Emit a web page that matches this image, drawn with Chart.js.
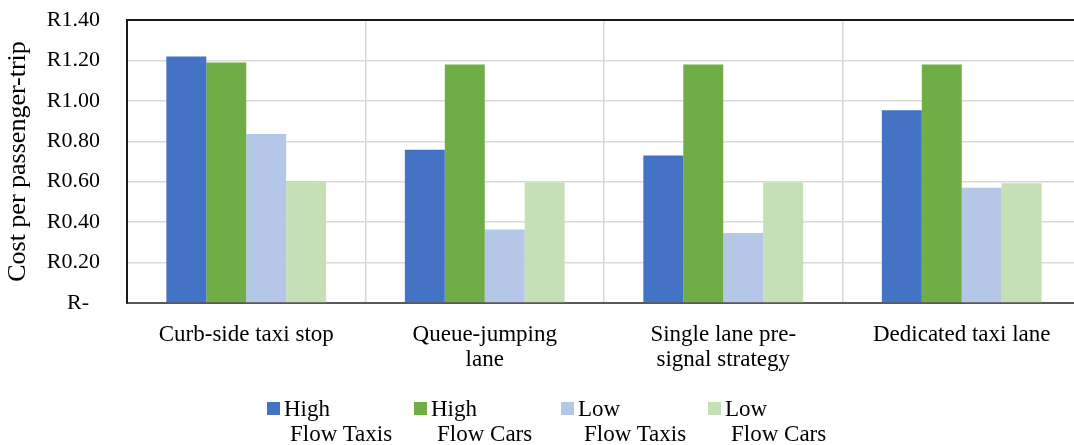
<!DOCTYPE html>
<html>
<head>
<meta charset="utf-8">
<script src="https://cdn.jsdelivr.net/npm/chart.js@4/dist/chart.umd.min.js"></script>
<style>
  html, body { margin: 0; padding: 0; background: #fff; }
  body { width: 1074px; height: 445px; overflow: hidden; position: relative; }
  #wrap { position: absolute; left: 0; top: 0; width: 1090px; height: 445px; }
  #legend { position: absolute; left: 267px; top: 396px; display: flex;
            font-family: 'Liberation Serif', 'Times New Roman', serif; font-size: 23px; color: #000; }
  .item { width: 147px; position: relative; }
  .box { position: absolute; left: 0; top: 6px; width: 13px; height: 13px; }
  .l1 { margin-left: 17px; line-height: 25px; white-space: nowrap; }
  .l2 { margin-left: 23px; line-height: 25px; white-space: nowrap; }
</style>
</head>
<body>
<div id="wrap"><canvas id="c" width="1090" height="445"></canvas></div>
<div id="legend"></div>
<script>
// Road treatment options along the x axis
const categories = [
  ['Curb-side taxi stop'],
  ['Queue-jumping', 'lane'],
  ['Single lane pre-', 'signal strategy'],
  ['Dedicated taxi lane']
];

// Cost per passenger-trip (Rand) for each flow scenario
const highFlowTaxis = [1.22, 0.758, 0.73, 0.953];
const highFlowCars  = [1.19, 1.18, 1.18, 1.18];
const lowFlowTaxis  = [0.836, 0.364, 0.346, 0.57];
const lowFlowCars   = [0.603, 0.597, 0.597, 0.593];

const seriesNames = [
  ['High', 'Flow Taxis'],
  ['High', 'Flow Cars'],
  ['Low', 'Flow Taxis'],
  ['Low', 'Flow Cars']
];
const seriesColors = ['#4472C4', '#70AD47', '#B4C7E7', '#C5E0B4'];

const yTickLabels = ['R-', 'R0.20', 'R0.40', 'R0.60', 'R0.80', 'R1.00', 'R1.20', 'R1.40'];

const serif = "'Liberation Serif', 'Times New Roman', serif";
const seriesValues = [highFlowTaxis, highFlowCars, lowFlowTaxis, lowFlowCars];

// Frame line along the top of the plot area
const topFrame = {
  id: 'topFrame',
  afterDraw(chart) {
    const { ctx, chartArea } = chart;
    ctx.save();
    ctx.strokeStyle = '#1a1a1a';
    ctx.lineWidth = 2;
    ctx.beginPath();
    ctx.moveTo(chartArea.left - 1, chartArea.top);
    ctx.lineTo(chartArea.right, chartArea.top);
    ctx.stroke();
    ctx.restore();
  }
};

new Chart(document.getElementById('c'), {
  type: 'bar',
  data: {
    labels: categories,
    datasets: seriesValues.map((vals, i) => ({
      label: seriesNames[i].join(' '),
      data: vals,
      backgroundColor: seriesColors[i],
      borderWidth: 0,
      categoryPercentage: 0.67,
      barPercentage: 1.0
    }))
  },
  options: {
    responsive: false,
    animation: false,
    devicePixelRatio: 1,
    layout: { padding: { top: 20, right: 9, bottom: 0, left: 0 } },
    plugins: {
      legend: { display: false },
      tooltip: { enabled: false }
    },
    scales: {
      x: {
        grid: { color: '#D9D9D9', lineWidth: 1.5, drawTicks: false, offset: true },
        border: { color: '#595959', width: 2 },
        ticks: {
          color: '#000',
          padding: 19,
          maxRotation: 0,
          autoSkip: false,
          font: { family: serif, size: 23, lineHeight: 1.1 }
        },
        afterFit(scale) {
          scale.height = 142;
          scale.paddingLeft = 0;
          scale.paddingRight = 0;
        }
      },
      y: {
        min: 0,
        max: 1.4,
        grid: { color: '#D9D9D9', lineWidth: 1.5, drawTicks: false },
        border: { color: '#1a1a1a', width: 2 },
        ticks: {
          stepSize: 0.2,
          color: '#000',
          padding: 27,
          font: { family: serif, size: 22 },
          callback: (v, i) => i === 0 ? yTickLabels[i] + '\u2002' : yTickLabels[i]
        },
        title: {
          display: true,
          text: 'Cost per passenger-trip',
          color: '#000',
          padding: { top: 3, bottom: 0 },
          font: { family: serif, size: 26, weight: 'normal' }
        },
        afterFit(scale) {
          scale.width = 127;
          scale.paddingTop = 0;
          scale.paddingBottom = 0;
        }
      }
    }
  },
  plugins: [topFrame]
});

// Legend built from the series names and colours
const legend = document.getElementById('legend');
seriesNames.forEach((name, i) => {
  const item = document.createElement('div');
  item.className = 'item';
  const box = document.createElement('span');
  box.className = 'box';
  box.style.background = seriesColors[i];
  const l1 = document.createElement('div');
  l1.className = 'l1';
  l1.textContent = name[0];
  const l2 = document.createElement('div');
  l2.className = 'l2';
  l2.textContent = name[1];
  item.append(box, l1, l2);
  legend.appendChild(item);
});
</script>
</body>
</html>
